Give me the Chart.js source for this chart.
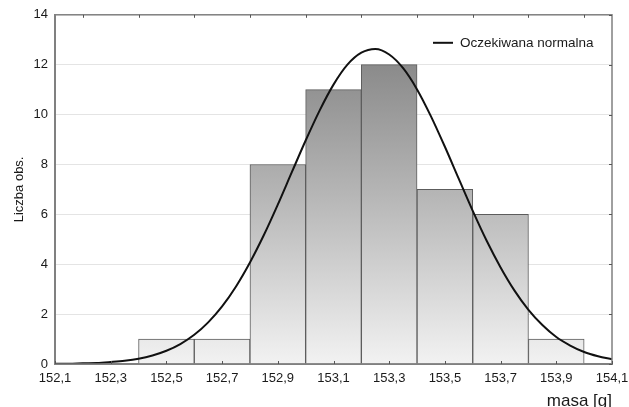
<!DOCTYPE html>
<html>
<head>
<meta charset="utf-8">
<script src="https://cdn.jsdelivr.net/npm/chart.js@4"></script>
<style>
  html, body { margin: 0; padding: 0; background: #fff; }
  #wrap { width: 629px; height: 407px; }
</style>
</head>
<body>
<div id="wrap"><canvas id="histChart"></canvas></div>
<script>
// srodki przedzialow histogramu i liczebnosci
const binCenters = [152.5, 152.7, 152.9, 153.1, 153.3, 153.5, 153.7, 153.9];
const counts = [1, 1, 8, 11, 12, 7, 6, 1];

// krzywa "Oczekiwana normalna"
const curveX = [152.10, 152.15, 152.20, 152.25, 152.30, 152.35, 152.40, 152.45, 152.50, 152.55,
                152.60, 152.65, 152.70, 152.75, 152.80, 152.85, 152.90, 152.95, 153.00, 153.05,
                153.10, 153.15, 153.20, 153.25, 153.30, 153.35, 153.40, 153.45, 153.50, 153.55,
                153.60, 153.65, 153.70, 153.75, 153.80, 153.85, 153.90, 153.95, 154.00, 154.05, 154.10];
const curveY = [0.01, 0.01, 0.03, 0.04, 0.08, 0.13, 0.21, 0.34, 0.53, 0.80,
                1.17, 1.67, 2.31, 3.11, 4.07, 5.17, 6.39, 7.68, 8.96, 10.16,
                11.20, 12.00, 12.48, 12.63, 12.41, 11.86, 11.01, 9.93, 8.71, 7.42,
                6.14, 4.94, 3.87, 2.94, 2.17, 1.56, 1.08, 0.74, 0.48, 0.31, 0.19];

// opisy osi
const xTickValues = [152.1, 152.3, 152.5, 152.7, 152.9, 153.1, 153.3, 153.5, 153.7, 153.9, 154.1];
const topTickValues = [152.2, 152.4, 152.6, 152.8, 153.0, 153.2, 153.4, 153.6, 153.8, 154.0];
const yTickValues = [0, 2, 4, 6, 8, 10, 12, 14];

const fontFamily = '"Liberation Sans", Arial, sans-serif';
Chart.defaults.font.family = fontFamily;
Chart.defaults.color = '#1a1a1a';

// ramka, kreski podzialki do srodka i legenda
const ramka = {
  id: 'ramka',
  afterDraw(chart) {
    const { ctx, chartArea: a, scales: { x, y } } = chart;
    ctx.save();
    ctx.strokeStyle = '#808080';
    ctx.lineWidth = 1.5;
    ctx.strokeRect(a.left, a.top, a.right - a.left, a.bottom - a.top);

    ctx.lineWidth = 1;
    ctx.strokeStyle = '#555';
    ctx.beginPath();
    xTickValues.forEach(v => {
      const px = Math.round(x.getPixelForValue(v)) + 0.5;
      ctx.moveTo(px, a.bottom); ctx.lineTo(px, a.bottom - 3);
    });
    topTickValues.forEach(v => {
      const px = Math.round(x.getPixelForValue(v)) + 0.5;
      ctx.moveTo(px, a.top); ctx.lineTo(px, a.top + 3);
    });
    yTickValues.forEach(v => {
      const py = Math.round(y.getPixelForValue(v)) + 0.5;
      ctx.moveTo(a.right, py); ctx.lineTo(a.right - 3, py);
    });
    ctx.stroke();

    // legenda w prawym gornym rogu
    const ly = a.top + 28;
    ctx.strokeStyle = '#111';
    ctx.lineWidth = 2;
    ctx.beginPath();
    ctx.moveTo(a.right - 179, ly); ctx.lineTo(a.right - 159, ly);
    ctx.stroke();
    ctx.fillStyle = '#1a1a1a';
    ctx.font = '13.5px ' + fontFamily;
    ctx.textBaseline = 'middle';
    ctx.textAlign = 'left';
    ctx.fillText('Oczekiwana normalna', a.right - 152, ly);
    ctx.restore();
  }
};

const ctx = document.getElementById('histChart').getContext('2d');

new Chart(ctx, {
  type: 'bar',
  data: {
    datasets: [
      {
        type: 'line',
        label: 'Oczekiwana normalna',
        data: curveX.map((v, i) => ({ x: v, y: curveY[i] })),
        borderColor: '#111',
        borderWidth: 2,
        pointRadius: 0,
        fill: false,
        cubicInterpolationMode: 'monotone',
        order: 0,
      },
      {
        label: 'Liczba obs.',
        data: binCenters.map((v, i) => ({ x: v, y: counts[i] })),
        backgroundColor: (c) => {
          const area = c.chart.chartArea;
          if (!area) return '#bbb';
          // gradient liczony do calego obszaru wykresu
          const g = c.chart.ctx.createLinearGradient(0, area.top, 0, area.bottom);
          g.addColorStop(0, '#7a7a7a');
          g.addColorStop(0.5, '#b4b4b4');
          g.addColorStop(1, '#f2f2f2');
          return g;
        },
        borderColor: '#5c5c5c',
        borderWidth: 1,
        barPercentage: 1,
        categoryPercentage: 1,
        order: 1,
      },
    ],
  },
  options: {
    responsive: true,
    maintainAspectRatio: false,
    animation: false,
    layout: { padding: { top: 14, right: 17, left: 0, bottom: 0 } },
    plugins: {
      legend: { display: false },
      tooltip: { enabled: false },
    },
    scales: {
      x: {
        type: 'linear',
        min: 152.1,
        max: 154.1,
        offset: false,
        afterBuildTicks: (scale) => {
          scale.ticks = xTickValues.map(v => ({ value: v }));
        },
        afterFit: (scale) => {
          scale.height = 43;
          // bez dodatkowego marginesu na etykiety skrajne
          scale.paddingLeft = 0;
          scale.paddingRight = 0;
        },
        ticks: {
          autoSkip: false,
          maxRotation: 0,
          padding: 7,
          font: { size: 13 },
          callback: (v) => v.toFixed(1).replace('.', ','),
        },
        grid: { display: false, drawTicks: false, offset: false },
        border: { display: true, color: '#808080', width: 2 },
        title: {
          display: true,
          text: 'masa [g]',
          align: 'end',
          color: '#1a1a1a',
          font: { size: 17, lineHeight: 1 },
          padding: { top: 0, bottom: -3 },
        },
      },
      y: {
        min: 0,
        max: 14,
        afterFit: (scale) => { scale.width = 55; },
        ticks: {
          stepSize: 2,
          padding: 7,
          font: { size: 13 },
        },
        grid: { color: '#e4e4e4', lineWidth: 1, drawTicks: false },
        border: { display: true, color: '#808080', width: 2 },
        title: {
          display: true,
          text: 'Liczba obs.',
          color: '#1a1a1a',
          font: { size: 13 },
          padding: { top: 12, bottom: 0 },
        },
      },
    },
  },
  plugins: [ramka],
});
</script>
</body>
</html>
